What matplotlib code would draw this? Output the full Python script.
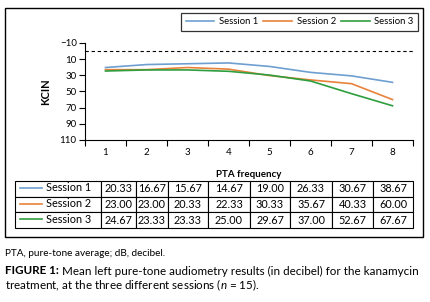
import numpy as np
import matplotlib
matplotlib.use("Agg")
from matplotlib import pyplot as plt
from matplotlib.patches import Rectangle

plt.rcParams["font.family"] = ["Lato", "DejaVu Sans"]
plt.rcParams["mathtext.fontset"] = "custom"
plt.rcParams["mathtext.it"] = "Lato:italic"

freqs = [1, 2, 3, 4, 5, 6, 7, 8]
sessions = ["Session 1", "Session 2", "Session 3"]
session1 = [20.33, 16.67, 15.67, 14.67, 19.00, 26.33, 30.67, 38.67]
session2 = [23.00, 23.00, 20.33, 22.33, 30.33, 35.67, 40.33, 60.00]
session3 = [24.67, 23.33, 23.33, 25.00, 29.67, 37.00, 52.67, 67.67]
yticks = [-10, 10, 30, 50, 70, 90, 110]
colors = ["#6f9fd0", "#e8823a", "#2e9e3e"]

W, H = 430, 302
fig = plt.figure(figsize=(W / 100, H / 100), dpi=100)


def fx(px):
    return px / W


def fy(py):
    return 1 - py / H


# outer frame round chart + table
fig.patches.append(Rectangle((fx(5), fy(237)), fx(418), 229 / H, transform=fig.transFigure,
                             fill=False, edgecolor="black", linewidth=1.0))

ax = fig.add_axes([fx(85), fy(140), fx(328), 97 / H])
series = [session1, session2, session3]
for name, vals, c in zip(sessions, series, colors):
    ax.plot(freqs, vals, color=c, lw=1.2, label=name)
ax.axhline(0, color="black", ls="--", lw=0.8, dashes=(3, 2.5))
ax.set_xlim(0.5, 8.5)
ax.set_ylim(110, -10)
ax.set_yticks(yticks)
ax.set_xticks(np.arange(0.5, 9, 1))
ax.set_xticklabels([])
ax.set_xticks(freqs, minor=True)
ax.set_xticklabels([str(f) for f in freqs], minor=True)
ax.tick_params(axis="x", which="minor", length=0, pad=6, labelsize=7)
ax.tick_params(axis="x", which="major", length=4, direction="out", width=0.8)
ax.tick_params(axis="y", length=4, width=0.8, labelsize=7, pad=2)
for s in ["top", "right"]:
    ax.spines[s].set_visible(False)
for s in ["left", "bottom"]:
    ax.spines[s].set_linewidth(0.8)
ax.set_ylabel("KCIN", fontsize=8, fontweight="bold", labelpad=6)
ax.set_xlabel("PTA frequency", fontsize=7, fontweight="bold", labelpad=9)

leg = fig.legend(loc="upper right", bbox_to_anchor=(fx(418), fy(13)), ncol=3, fontsize=6.8,
                 frameon=True, fancybox=False, edgecolor="black", handlelength=3.0,
                 columnspacing=0.6, handletextpad=0.5, borderpad=0.45, borderaxespad=0)
leg.get_frame().set_linewidth(0.9)

# data table
tax = fig.add_axes([fx(15), fy(228), fx(398), 47 / H])
tax.axis("off")
col_px = [86, 35, 32, 40, 42, 40, 42, 41, 40]
cells = [[""] + ["%.2f" % v for v in vals] for vals in series]
tbl = tax.table(cellText=cells, colWidths=[c / sum(col_px) for c in col_px],
                bbox=[0, 0, 1, 1], cellLoc="center")
tbl.auto_set_font_size(False)
tbl.set_fontsize(7.8)
for (r, c), cell in tbl.get_celld().items():
    cell.set_linewidth(0.8)
for i, (name, c) in enumerate(zip(sessions, colors)):
    yc = 1 - (i + 0.5) / 3
    tax.plot([5 / 398, 27 / 398], [yc + 0.02, yc + 0.02], color=c, lw=1.2,
             transform=tax.transAxes, clip_on=False)
    tax.text(31 / 398, yc + 0.02, name, fontsize=7.8, va="center", ha="left",
             transform=tax.transAxes)

# caption
fig.text(fx(5), fy(253), "PTA, pure-tone average; dB, decibel.", fontsize=7.2, va="center")
fs = 8.4
head = fig.text(fx(5), fy(271), "FIGURE 1:", fontsize=fs, fontweight="bold", va="center")
fig.canvas.draw()
bb = head.get_window_extent()
fig.text(bb.x1 / W + fx(3), fy(271),
         "Mean left pure-tone audiometry results (in decibel) for the kanamycin",
         fontsize=fs, va="center")
fig.text(fx(5), fy(285), r"treatment, at the three different sessions ($n$ = 15).",
         fontsize=fs, va="center")

fig.savefig("out.png", dpi=100)
